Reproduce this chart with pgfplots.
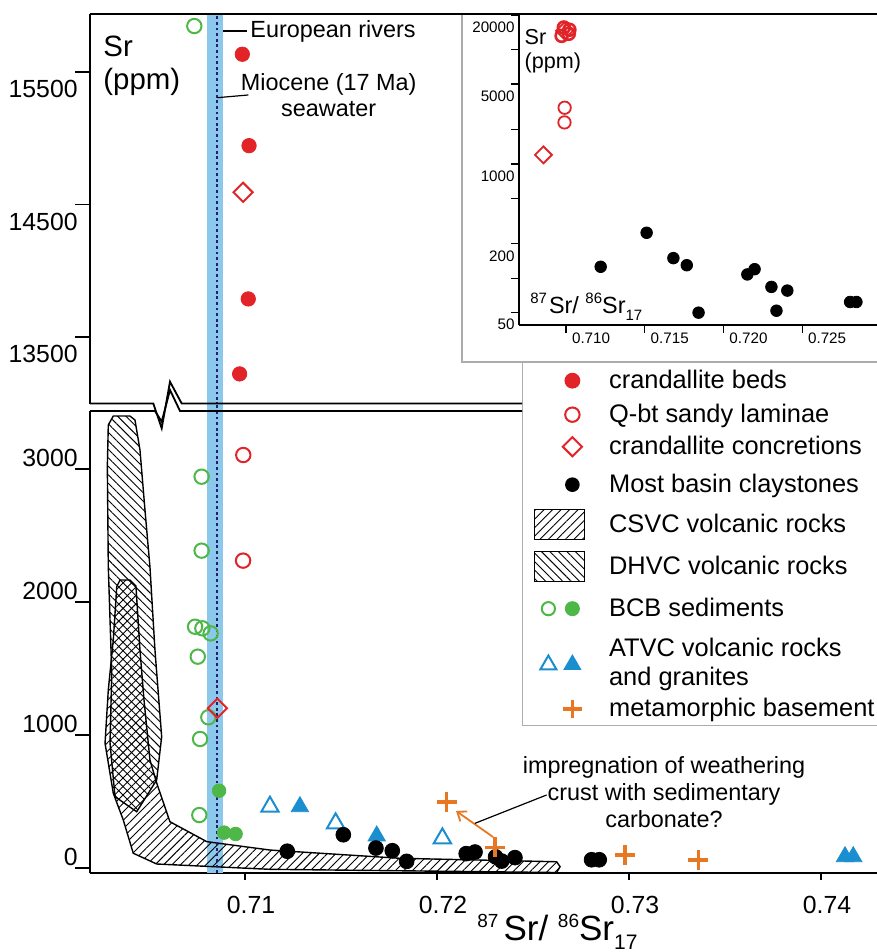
\documentclass[border=0pt]{standalone}
\usepackage{pgfplots}
\pgfplotsset{compat=1.18}
\usepackage{pgfplotstable}
\usepackage{fontspec}
\setmainfont{Liberation Sans}
\usetikzlibrary{patterns.meta,arrows.meta}

\definecolor{cred}{RGB}{226,35,40}
\definecolor{cgreen}{RGB}{77,183,72}
\definecolor{cblue}{RGB}{27,142,208}
\definecolor{corange}{RGB}{232,119,34}
\definecolor{cband}{RGB}{140,200,235}
\definecolor{cnavy}{RGB}{35,30,110}

% spacer that fixes the height of a legend row
\newcommand{\RH}[1]{\path[draw=none,fill=none] (0pt,-#1/2) rectangle (25pt,#1/2);}

% Most basin claystones
\pgfplotstableread{
x y
0.71220 126
0.71512 250
0.71682 150
0.71767 130
0.71842 50
0.72152 108
0.72198 120
0.72305 84
0.72337 52
0.72406 78
0.72805 62
0.72845 62
}\claystones
% crandallite beds
\pgfplotstableread{
x y
0.70986 15634
0.71021 14944
0.71017 13787
0.70972 13221
}\beds
% Q-bt sandy laminae
\pgfplotstableread{
x y
0.70991 3105
0.70990 2311
}\laminae
% crandallite concretions
\pgfplotstableread{
x y
0.70990 14592
0.70856 1201
}\concretions
% BCB sediments open
\pgfplotstableread{
x y
0.70736 15847
0.70774 2942
0.70774 2386
0.70740 1814
0.70778 1802
0.70821 1764
0.70754 1589
0.70809 1133
0.70766 970
0.70762 398
}\bcbopen
% BCB sediments filled
\pgfplotstableread{
x y
0.70865 581
0.70891 266
0.70951 256
}\bcbfilled
% ATVC open
\pgfplotstableread{
x y
0.71130 461
0.71472 336
0.72028 223
}\atvcopen
% ATVC filled
\pgfplotstableread{
x y
0.71286 461
0.71686 241
0.74125 85
0.74168 85
}\atvcfilled
% metamorphic basement
\pgfplotstableread{
x y
0.72050 498
0.72302 155
0.72979 98
0.73361 60
}\meta

\begin{document}
\begin{tikzpicture}
\path[use as bounding box] (0pt,0pt) rectangle (438.5pt,476pt);

%================ upper panel
\begin{axis}[
  at={(45pt,274pt)}, anchor=south west,
  scale only axis, width=393.5pt, height=195pt,
  xmin=0.701927, xmax=0.742917, ymin=12994, ymax=15938,
  axis x line*=top, axis y line*=left,
  xtick=\empty,
  ytick={13500,14500,15500}, yticklabels={13500,14500,15500},
  tick align=outside, major tick length=7.5pt,
  tick style={line width=0.7pt, black},
  axis line style={line width=1pt},
  ticklabel style={font=\fontsize{12.4}{14}\selectfont},
  yticklabel style={anchor=north east, inner sep=0pt, xshift=1.5pt, yshift=-4pt},
  scaled ticks=false, clip=false,
]
\addplot[draw=none, fill=cband] coordinates {(0.70800,12940) (0.70883,12940) (0.70883,15938) (0.70800,15938)} -- cycle;
\addplot[cnavy, line width=1.3pt, dash pattern=on 1.4pt off 1.4pt] coordinates {(0.70854,12940) (0.70854,15938)};
\addplot[only marks, mark=o, mark size=3.6pt, cgreen, line width=1pt] table {\bcbopen};
\addplot[only marks, mark=*, mark size=3.6pt, cred, fill=cred] table {\beds};
\addplot[only marks, mark=square, mark size=3.4pt, cred, line width=1pt, mark options={rotate=45, fill=white}] table {\concretions};
\end{axis}

%================ inset frame
\begin{scope}[x=0.5pt, y=-0.5pt, yshift=476pt]
\draw[gray!65, line width=0.7pt, fill=white] (462,14) rectangle (884,362);
\end{scope}

%================ inset
\begin{axis}[
  at={(259.5pt,313.5pt)}, anchor=south west,
  scale only axis, width=179pt, height=155.5pt,
  xmin=0.70701, xmax=0.72976, ymode=log, ymin=39, ymax=20530,
  axis x line*=bottom, axis y line*=left,
  xtick={0.710,0.715,0.720,0.725}, xticklabels={0.710,0.715,0.720,0.725},
  ytick={50,100,200,500,1000,2000,5000,10000,20000},
  yticklabels={50,,200,,1000,,5000,,20000},
  minor tick length=0pt,
  tick align=outside, major tick length=4pt,
  tick style={line width=0.6pt, black},
  axis line style={line width=0.8pt},
  ticklabel style={font=\fontsize{7.6}{9}\selectfont},
  xticklabel style={anchor=north west, inner sep=0pt, xshift=2.8pt},
  yticklabel style={anchor=east, inner sep=0pt, xshift=2pt, yshift=-6pt},
  scaled ticks=false,
]
\addplot[only marks, mark=*, mark size=2.9pt, black] table {\claystones};
\addplot[only marks, mark=o, mark size=3pt, cred, line width=1.3pt, mark options={fill=white}] table {\beds};
\addplot[only marks, mark=o, mark size=3.1pt, cred, line width=0.9pt] table {\laminae};
\addplot[only marks, mark=square, mark size=3pt, cred, line width=0.9pt, mark options={rotate=45, fill=white}] table {\concretions};
\end{axis}

%================ lower panel
\begin{axis}[
  at={(45pt,39.5pt)}, anchor=south west,
  scale only axis, width=393.5pt, height=231pt,
  xmin=0.701927, xmax=0.742917, ymin=-37.6, ymax=3436,
  axis x line*=bottom, axis y line*=left,
  xtick={0.71,0.72,0.73,0.74}, xticklabels={0.71,0.72,0.73,0.74},
  ytick={0,1000,2000,3000}, yticklabels={0,1000,2000,3000},
  tick align=outside, major tick length=7.5pt,
  xtick style={/pgfplots/major tick length=3.5pt},
  tick style={line width=0.7pt, black},
  axis line style={line width=1pt},
  ticklabel style={font=\fontsize{12.4}{14}\selectfont},
  yticklabel style={anchor=south east, inner sep=0pt, xshift=1.5pt, yshift=1pt},
  xticklabel style={anchor=north, inner sep=0pt, xshift=3pt, yshift=-4pt},
  scaled ticks=false, clip=false,
  legend style={at={(0.5489,1.1061)}, anchor=north west, draw=gray!65, line width=0.7pt, fill=white,
    inner xsep=5.5pt, inner ysep=0.5pt, row sep=0pt, column sep=12pt,
    font=\fontsize{12.7}{14.5}\selectfont, nodes={inner sep=0pt}},
  legend cell align=left,
]
\addplot[forget plot, draw=none, fill=cband] coordinates {(0.70800,-37.6) (0.70883,-37.6) (0.70883,3500) (0.70800,3500)} -- cycle;
% CSVC volcanic rocks
\addplot[forget plot, draw=black, line width=0.7pt, pattern={Lines[angle=45,distance=3pt,line width=0.45pt]}] coordinates {
(0.70332,2115) (0.70349,2165) (0.70401,2165) (0.70432,2120) (0.70453,1639) (0.70474,1263) (0.70505,812) (0.70540,639) (0.70609,348) (0.70801,198) (0.71130,135) (0.71807,73) (0.72623,47) (0.72641,10) (0.72623,-34) (0.71130,-10) (0.70540,30) (0.70418,111) (0.70366,361) (0.70314,562) (0.70271,938) (0.70288,1338) (0.70314,1714)
} -- cycle;
% DHVC volcanic rocks
\addplot[forget plot, draw=black, line width=0.7pt, pattern={Lines[angle=-45,distance=3pt,line width=0.45pt]}] coordinates {
(0.70288,3331) (0.70314,3398) (0.70401,3398) (0.70427,3368) (0.70453,3143) (0.70479,2692) (0.70505,2263) (0.70531,1639) (0.70566,987) (0.70540,662) (0.70436,423) (0.70323,536) (0.70297,940) (0.70306,1466) (0.70288,2265) (0.70283,3017)
} -- cycle;
\addplot[forget plot, cnavy, line width=1.3pt, dash pattern=on 1.4pt off 1.4pt] coordinates {(0.70854,-37.6) (0.70854,3500)};
\addplot[forget plot, only marks, mark=o, mark size=3.6pt, cgreen, line width=1pt] table {\bcbopen};
\addplot[forget plot, only marks, mark=*, mark size=3.4pt, cgreen, fill=cgreen] table {\bcbfilled};
\addplot[forget plot, only marks, mark=triangle, mark size=5pt, cblue, line width=1pt] table {\atvcopen};
\addplot[forget plot, only marks, mark=triangle*, mark size=5pt, cblue, fill=cblue] table {\atvcfilled};
\addplot[forget plot, only marks, mark=*, mark size=3.7pt, black] table {\claystones};
\addplot[forget plot, only marks, mark=+, mark size=5pt, corange, line width=1.8pt] table {\meta};
\addplot[forget plot, only marks, mark=o, mark size=3.6pt, cred, line width=1pt] table {\laminae};
\addplot[forget plot, only marks, mark=square, mark size=3.4pt, cred, line width=1pt, mark options={rotate=45, fill=white}] table {\concretions};
\draw[corange, line width=0.9pt, -{Straight Barb[length=4pt,width=6pt]}] (axis cs:0.72292,233) -- (axis cs:0.72099,429);
\draw[black, line width=0.6pt] (axis cs:0.72571,549) -- (axis cs:0.72198,336);

% legend
\addlegendimage{legend image code/.code={\RH{17pt}\draw[cred] plot[only marks, mark=*, mark size=3.6pt] coordinates {(19pt,0pt)};}}
\addlegendentry{crandallite beds}
\addlegendimage{legend image code/.code={\RH{17pt}\draw[cred, line width=1pt] plot[only marks, mark=o, mark size=3.6pt] coordinates {(19pt,0pt)};}}
\addlegendentry{Q-bt sandy laminae}
\addlegendimage{legend image code/.code={\RH{15pt}\draw[cred, line width=1pt] plot[only marks, mark=square, mark size=3.4pt, mark options={rotate=45}] coordinates {(19pt,0pt)};}}
\addlegendentry{crandallite concretions}
\addlegendimage{legend image code/.code={\RH{23pt}\draw[black] plot[only marks, mark=*, mark size=3.3pt] coordinates {(19pt,0pt)};}}
\addlegendentry{Most basin claystones}
\addlegendimage{legend image code/.code={\RH{17pt}\draw[line width=0.7pt, pattern={Lines[angle=45,distance=3pt,line width=0.45pt]}] (0pt,-7.5pt) rectangle (25pt,7.5pt);}}
\addlegendentry{CSVC volcanic rocks}
\addlegendimage{legend image code/.code={\RH{25pt}\draw[line width=0.7pt, pattern={Lines[angle=-45,distance=3pt,line width=0.45pt]}] (0pt,-7.5pt) rectangle (25pt,7.5pt);}}
\addlegendentry{DHVC volcanic rocks}
\addlegendimage{legend image code/.code={\RH{17pt}\draw[cgreen, line width=1pt] plot[only marks, mark=o, mark size=3.3pt] coordinates {(7pt,0pt)}; \draw[cgreen] plot[only marks, mark=*, mark size=3.4pt] coordinates {(19pt,0pt)};}}
\addlegendentry{BCB sediments}
\addlegendimage{legend image code/.code={\RH{34pt}\draw[cblue, line width=1pt] plot[only marks, mark=triangle, mark size=4.6pt] coordinates {(7pt,-2.5pt)}; \draw[cblue] plot[only marks, mark=triangle*, mark size=4.6pt] coordinates {(19pt,-2.5pt)};}}
\addlegendentry{\raisebox{10.75pt}{\parbox[t]{175pt}{ATVC volcanic rocks\\and granites}}}
\addlegendimage{legend image code/.code={\RH{15.5pt}\draw[corange, line width=1.8pt] plot[only marks, mark=+, mark size=4.6pt] coordinates {(19pt,0pt)};}}
\addlegendentry{\makebox[175pt][l]{metamorphic basement}}
\end{axis}

%================ decorations and labels
\begin{scope}[x=0.5pt, y=-0.5pt, yshift=476pt]
\draw[line width=1pt] (90,14) -- (884,14);
\draw[line width=0.9pt, line join=miter] (90,403.5) -- (153.3,403.5) -- (161.7,428.3) -- (170,381.7) -- (181.7,403.5) -- (522,403.5);
\draw[line width=0.9pt, line join=miter] (90,411) -- (155,411) -- (161.7,421.7) -- (170,390) -- (180,411) -- (522,411);
% leader lines
\draw[line width=0.6pt] (223,31) -- (247,31);
\draw[line width=0.6pt] (217.3,97.7) -- (248.3,95);
% main panel texts
\node[anchor=base west, inner sep=0pt, font=\fontsize{14.7}{16}\selectfont] at (103,56.7) {Sr};
\node[anchor=base west, inner sep=0pt, font=\fontsize{14.7}{16}\selectfont] at (103,90) {(ppm)};
\node[anchor=base west, inner sep=0pt, font=\fontsize{11.7}{13}\selectfont] at (250,37.7) {European rivers};
\node[anchor=base, inner sep=0pt, font=\fontsize{11.7}{13}\selectfont] at (328.7,90.7) {Miocene (17 Ma)};
\node[anchor=base, inner sep=0pt, font=\fontsize{11.7}{13}\selectfont] at (328.7,116.7) {seawater};
% inset texts
\node[anchor=base west, inner sep=0pt, font=\fontsize{10.8}{12}\selectfont] at (524.3,45) {Sr};
\node[anchor=base west, inner sep=0pt, font=\fontsize{10.8}{12}\selectfont] at (524.3,69) {(ppm)};
\node[anchor=base west, inner sep=0pt, font=\fontsize{11.7}{13}\selectfont] at (530,314) {\raisebox{5pt}{\fontsize{7.5}{8}\selectfont 87}\hspace{1pt}Sr/ \raisebox{5pt}{\fontsize{7.5}{8}\selectfont 86}Sr\raisebox{-3.3pt}{\fontsize{7.5}{8}\selectfont 17}};
% annotation
\node[anchor=base, inner sep=0pt, font=\fontsize{11.7}{13}\selectfont] at (664,774) {impregnation of weathering};
\node[anchor=base, inner sep=0pt, font=\fontsize{11.7}{13}\selectfont] at (664,801) {crust with sedimentary};
\node[anchor=base, inner sep=0pt, font=\fontsize{11.7}{13}\selectfont] at (664,828) {carbonate?};
% x axis title
\node[anchor=base west, inner sep=0pt, font=\fontsize{17.5}{20}\selectfont] at (477,941) {\raisebox{6.7pt}{\fontsize{9.5}{10}\selectfont 87}\hspace{2.5pt}Sr/ \raisebox{6.7pt}{\fontsize{9.5}{10}\selectfont 86}Sr\raisebox{-4.2pt}{\fontsize{10.5}{11}\selectfont 17}};
\end{scope}
\end{tikzpicture}
\end{document}
